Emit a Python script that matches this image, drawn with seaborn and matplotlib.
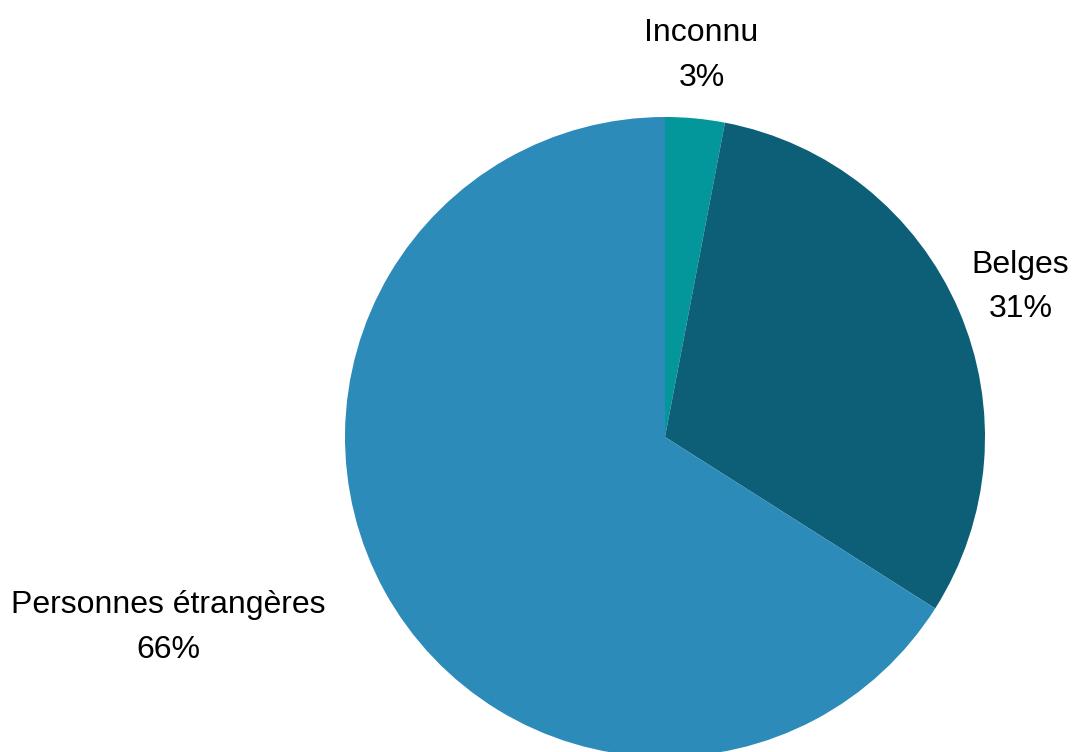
import matplotlib
matplotlib.use("Agg")
import matplotlib.pyplot as plt
import matplotlib.transforms as mtransforms
import seaborn as sns

categories = ["Inconnu", "Belges", "Personnes étrangères"]
shares     = [3, 31, 66]
colors     = ["#03979b", "#0d5f78", "#2d8bba"]

W, H = 1074, 752
CX, CY, R = 665, 752 - 437, 320

sns.set_theme(style="white")
plt.rcParams["font.family"] = ["Liberation Sans", "DejaVu Sans"]

fig = plt.figure(figsize=(W / 100, H / 100), dpi=100)
ax = fig.add_axes([0, 0, 1, 1])

labels = [f"{c}\n{v}%" for c, v in zip(categories, shares)]
wedges, texts = ax.pie(
    shares, labels=labels, colors=colors,
    startangle=90, counterclock=False,
    center=(CX, CY), radius=R, labeldistance=1.21,
    wedgeprops=dict(linewidth=0),
    textprops=dict(fontsize=23, color="black", linespacing=1.62,
                   multialignment="center"),
)
# labels on top/right are centred on their anchor, left one right-aligned
texts[0].set_horizontalalignment("center")
texts[1].set_horizontalalignment("center")
texts[2].set_horizontalalignment("right")

# nudge labels down a few pixels
shift = mtransforms.offset_copy(ax.transData, fig=fig, x=0, y=-4, units="dots")
for t in texts:
    t.set_transform(shift)

ax.set_xlim(0, W)
ax.set_ylim(0, H)
ax.set_aspect("equal")
ax.axis("off")

fig.savefig("out.png", dpi=100)
